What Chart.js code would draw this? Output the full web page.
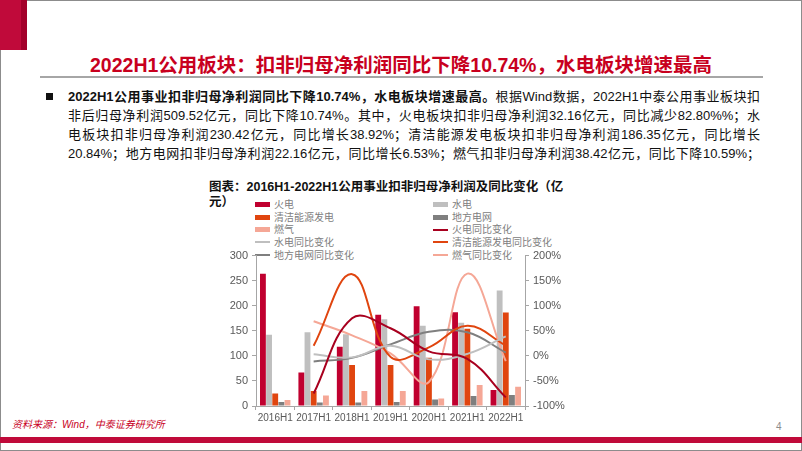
<!DOCTYPE html>
<html>
<head>
<meta charset="utf-8">
<script src="https://cdn.jsdelivr.net/npm/chart.js@4.4.0/dist/chart.umd.min.js"></script>
<style>
  body { margin:0; width:802px; height:451px; position:relative; overflow:hidden; background:#fff;
         font-family:"Liberation Sans","Noto Sans CJK SC",sans-serif; }
  .frame { position:absolute; left:0; top:0; width:802px; height:451px; box-sizing:border-box; border:1px solid #8c8c8c; }
  .redblock { position:absolute; left:0; top:0; width:27px; height:50px; background:#c00a3a; border-right:6px solid #a3002a; box-sizing:border-box; }
  .title { position:absolute; left:0; width:802px; top:49px; text-align:center; color:#c8001e; font-weight:bold; font-size:19.5px; }
  .rule { position:absolute; left:40px; top:76px; width:723px; height:2px; background:#a6a6a6; }
  .bullet { position:absolute; left:46px; top:93px; width:7px; height:7px; background:#111; }
  .para { position:absolute; left:68px; top:87px; width:692px; font-size:13px; color:#111; }
  .para div { height:19px; line-height:19px; text-align:justify; text-align-last:justify; }
  .ctitle { position:absolute; left:209px; font-size:12.5px; font-weight:bold; color:#111; line-height:15px; white-space:nowrap; }
  .leg { position:absolute; font-size:10px; color:#808080; line-height:11px; white-space:nowrap; }
  .leg i { display:inline-block; width:15px; vertical-align:middle; margin-right:4px; position:relative; top:-1px; }
  .source { position:absolute; left:12px; top:416px; font-size:10px; color:#c8001e; font-style:italic; }
  .page { position:absolute; left:776px; top:421px; font-size:10px; color:#8c8c8c; }
  .bottombar { position:absolute; left:0; top:437px; width:802px; height:6px; background:#c00a3a; }
  #wrap { position:absolute; left:200px; top:245px; width:380px; height:185px; }
</style>
</head>
<body>
<div class="frame"></div>
<div class="redblock"></div>
<div class="title">2022H1公用板块：扣非归母净利润同比下降10.74%，水电板块增速最高</div>
<div class="rule"></div>
<div class="bullet"></div>
<div class="para">
  <div><b>2022H1公用事业扣非归母净利润同比下降10.74%，水电板块增速最高。</b>根据Wind数据，2022H1中泰公用事业板块扣</div>
  <div>非后归母净利润509.52亿元，同比下降10.74%。其中，火电板块扣非归母净利润32.16亿元，同比减少82.80%%；水</div>
  <div>电板块扣非归母净利润230.42亿元，同比增长38.92%；清洁能源发电板块扣非归母净利润186.35亿元，同比增长</div>
  <div>20.84%；地方电网扣非归母净利润22.16亿元，同比增长6.53%；燃气扣非归母净利润38.42亿元，同比下降10.59%；</div>
</div>
<div class="ctitle" style="top:180px">图表：2016H1-2022H1公用事业扣非归母净利润及同比变化（亿</div>
<div class="ctitle" style="top:195px">元）</div>
<div id="legend"></div>
<div id="wrap"><canvas id="myChart"></canvas></div>
<div class="source">资料来源：Wind，中泰证券研究所</div>
<div class="page">4</div>
<div class="bottombar"></div>

<script>
const categorias = ['2016H1', '2017H1', '2018H1', '2019H1', '2020H1', '2021H1', '2022H1'];

// 扣非归母净利润（亿元）
const huodian = [264, 67, 118, 182, 199, 187, 32.16];
const shuidian = [142, 147, 143, 173, 160, 166, 230.42];
const qingjie = [25, 30, 82, 82, 96, 154, 186.35];
const difang = [8, 7, 7, 8, 13, 20, 22.16];
const ranqi = [12, 21, 30, 30, 15, 42, 38.42];

// 同比变化（%）
const huodianYoY = [null, -75, 75, 55, 9, -6, -82.8];
const shuidianYoY = [null, 3, -3, 20, -7, 4, 38.92];
const qingjieYoY = [null, 20, 163, -2, 17, 60, 20.84];
const difangYoY = [null, -11, -4, 23, 48, 47, 6.53];
const ranqiYoY = [null, 69, 41, 5, -52, 164, -10.59];

const leftTicks = [0, 50, 100, 150, 200, 250, 300];
const rightTicks = [-100, -50, 0, 50, 100, 150, 200];

const cHuo = '#c0002f';
const cShui = '#bfbfbf';
const cQing = '#e0450f';
const cDi = '#7f7f7f';
const cRan = '#f5a796';
const cHuoLine = '#a8001f';

const items = [
  { label: '火电', color: cHuo, bar: true },
  { label: '水电', color: cShui, bar: true },
  { label: '清洁能源发电', color: cQing, bar: true },
  { label: '地方电网', color: cDi, bar: true },
  { label: '燃气', color: cRan, bar: true },
  { label: '火电同比变化', color: cHuoLine, bar: false },
  { label: '水电同比变化', color: cShui, bar: false },
  { label: '清洁能源发电同比变化', color: cQing, bar: false },
  { label: '地方电网同比变化', color: cDi, bar: false },
  { label: '燃气同比变化', color: cRan, bar: false }
];

// 两列图例
const legend = document.getElementById('legend');
items.forEach((it, i) => {
  const d = document.createElement('div');
  d.className = 'leg';
  d.style.left = (i % 2 === 0 ? 255 : 433) + 'px';
  d.style.top = (199 + Math.floor(i / 2) * 12.7) + 'px';
  const h = it.bar ? 5 : 2;
  d.innerHTML = '<i style="height:' + h + 'px;background:' + it.color + '"></i>' + it.label;
  legend.appendChild(d);
});

function barSet(label, data, color) {
  return { type: 'bar', label: label, data: data, backgroundColor: color, yAxisID: 'y', order: 2,
           barPercentage: 0.95, categoryPercentage: 0.8 };
}
function lineSet(label, data, color) {
  return { type: 'line', label: label, data: data, borderColor: color, backgroundColor: color, yAxisID: 'y1',
           borderWidth: 2, pointRadius: 0, tension: 0.4, order: 1 };
}

const tickFont = { family: 'Liberation Sans', size: 11 };
const axisColor = '#a6a6a6';

const ctx = document.getElementById('myChart');
new Chart(ctx, {
  data: {
    labels: categorias,
    datasets: [
      barSet('火电', huodian, cHuo),
      barSet('水电', shuidian, cShui),
      barSet('清洁能源发电', qingjie, cQing),
      barSet('地方电网', difang, cDi),
      barSet('燃气', ranqi, cRan),
      lineSet('火电同比变化', huodianYoY, cHuoLine),
      lineSet('水电同比变化', shuidianYoY, cShui),
      lineSet('清洁能源发电同比变化', qingjieYoY, cQing),
      lineSet('地方电网同比变化', difangYoY, cDi),
      lineSet('燃气同比变化', ranqiYoY, cRan)
    ]
  },
  options: {
    responsive: true,
    maintainAspectRatio: false,
    animation: false,
    layout: { padding: { top: 10, left: 0, right: 0, bottom: 0 } },
    plugins: { legend: { display: false }, tooltip: { enabled: false } },
    scales: {
      x: {
        offset: true,
        grid: { display: true, offset: true, drawOnChartArea: false, tickLength: 4, color: axisColor },
        border: { display: true, color: axisColor },
        ticks: { font: { family: 'Liberation Sans', size: 10 }, color: '#595959', padding: 2, maxRotation: 0, autoSkip: false },
        afterFit: s => { s.height = 24; }
      },
      y: {
        position: 'left',
        min: 0, max: 300,
        afterBuildTicks: s => { s.ticks = leftTicks.map(v => ({ value: v })); },
        grid: { display: true, drawOnChartArea: false, tickLength: 4, color: axisColor },
        border: { display: true, color: axisColor },
        ticks: { font: tickFont, color: '#595959', padding: 4 },
        afterFit: s => { s.width = 56; }
      },
      y1: {
        position: 'right',
        min: -100, max: 200,
        afterBuildTicks: s => { s.ticks = rightTicks.map(v => ({ value: v })); },
        grid: { display: true, drawOnChartArea: false, tickLength: 4, color: axisColor },
        border: { display: true, color: axisColor },
        ticks: { font: tickFont, color: '#595959', padding: 4, callback: v => v + '%' },
        afterFit: s => { s.width = 55; }
      }
    }
  }
});
</script>
</body>
</html>
